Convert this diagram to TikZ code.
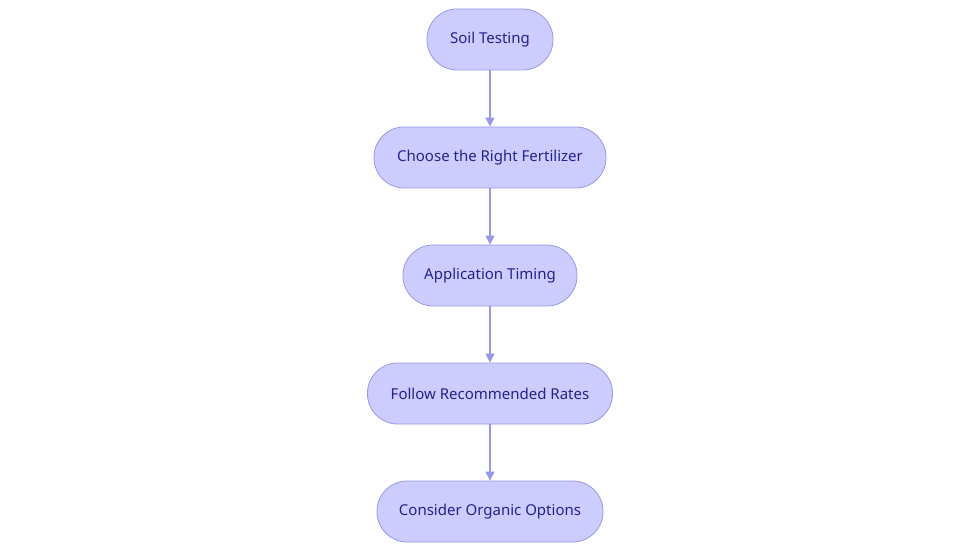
\documentclass[tikz,border=0pt]{standalone}
\usepackage{fontspec}
\setmainfont{Noto Sans}
\usetikzlibrary{arrows.meta}
\definecolor{nfill}{HTML}{CCCCFF}
\definecolor{nline}{HTML}{9898E8}
\definecolor{ntext}{HTML}{23238C}
\begin{document}
\begin{tikzpicture}[x=1pt,y=1pt,
  box/.style={rounded corners=30pt,draw=nline,fill=nfill,line width=0.8pt,
    minimum height=61pt,text=ntext,font=\fontsize{15}{18}\selectfont,inner sep=0pt},
  arr/.style={draw=nline,line width=1.2pt,-{Triangle[length=9pt,width=9pt]}}]
\useasboundingbox (0,0) rectangle (980,-553);
\node[box,minimum width=126pt] (a) at (490,-39.5) {Soil Testing};
\node[box,minimum width=232pt] (b) at (490,-157.5) {Choose the Right Fertilizer};
\node[box,minimum width=174pt] (c) at (490,-275.5) {Application Timing};
\node[box,minimum width=245pt] (d) at (490,-393.5) {Follow Recommended Rates};
\node[box,minimum width=226pt] (e) at (490,-511.5) {Consider Organic Options};
\draw[arr] (a) -- (b);
\draw[arr] (b) -- (c);
\draw[arr] (c) -- (d);
\draw[arr] (d) -- (e);
\end{tikzpicture}
\end{document}
